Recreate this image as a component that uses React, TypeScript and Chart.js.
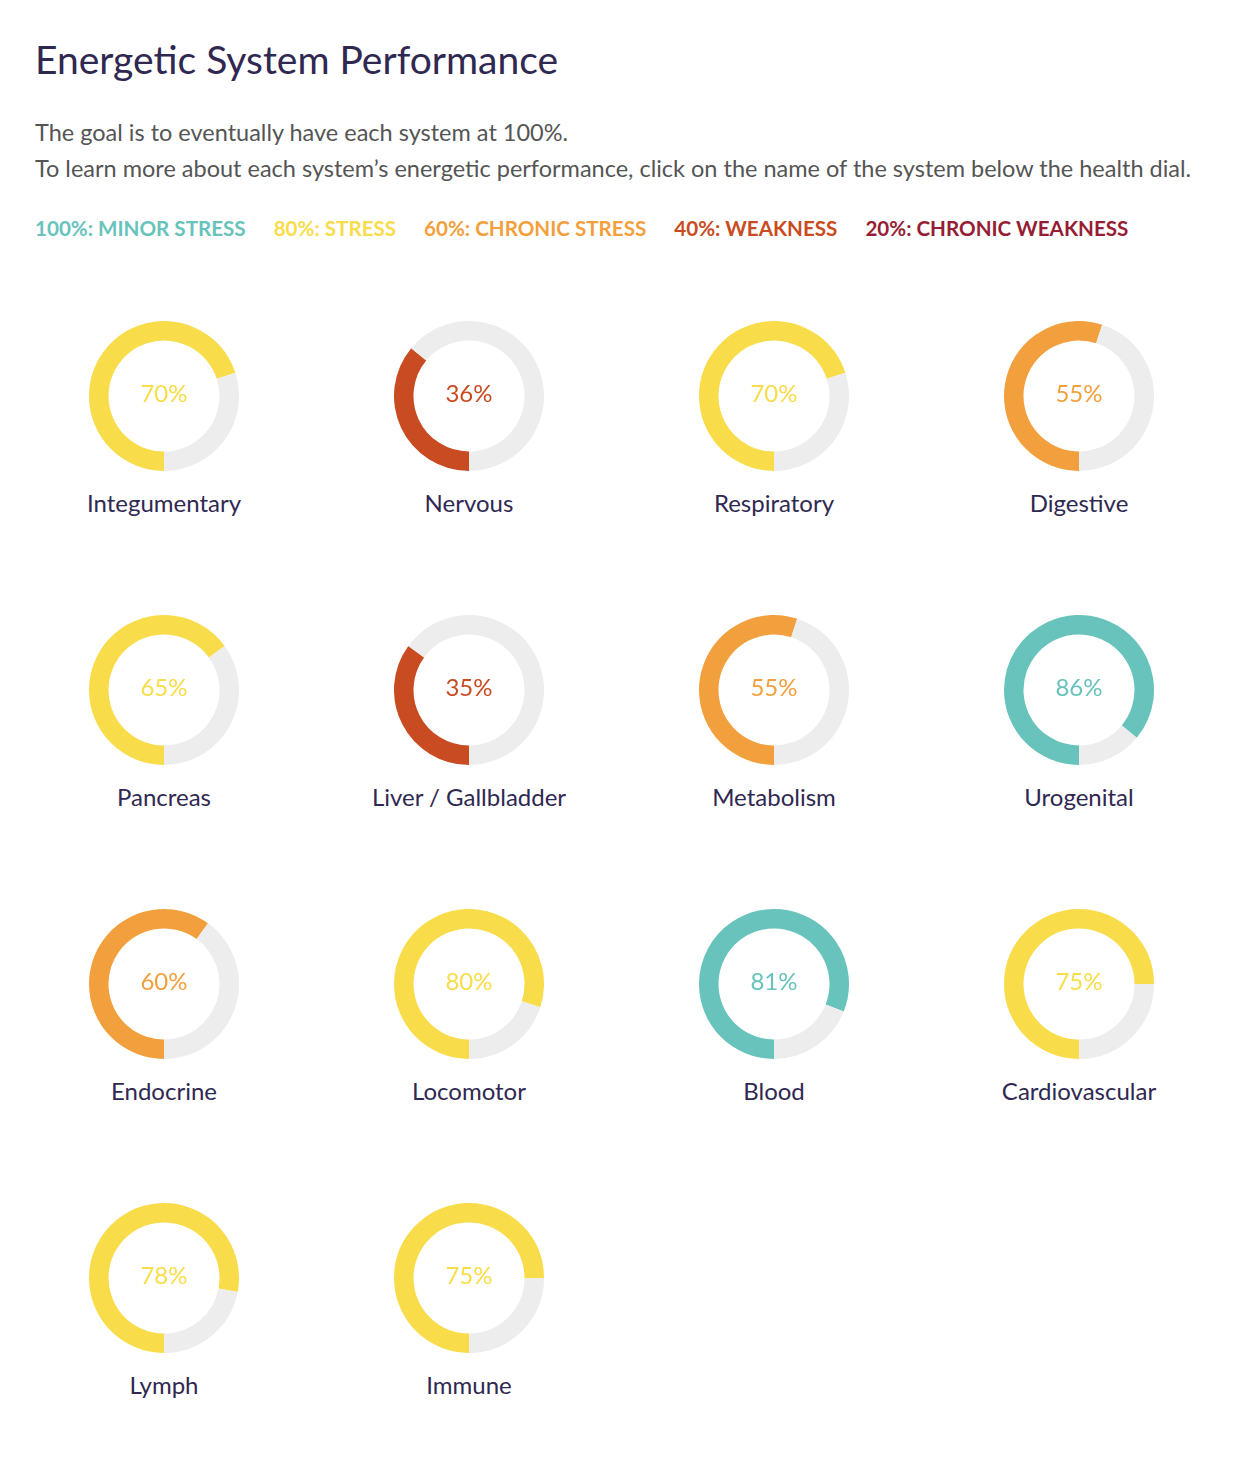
import React, { useEffect, useRef } from "react";
import { Chart, registerables } from "chart.js";

Chart.register(...registerables);

// Body systems and their energetic performance (%)
const systems = [
  "Integumentary", "Nervous", "Respiratory", "Digestive",
  "Pancreas", "Liver / Gallbladder", "Metabolism", "Urogenital",
  "Endocrine", "Locomotor", "Blood", "Cardiovascular",
  "Lymph", "Immune",
];
const scores = [70, 36, 70, 55, 65, 35, 55, 86, 60, 80, 81, 75, 78, 75];

// Legend bands
const bandLabels = [
  "100%: MINOR STRESS", "80%: STRESS", "60%: CHRONIC STRESS",
  "40%: WEAKNESS", "20%: CHRONIC WEAKNESS",
];
const bandColors = ["#67C3BC", "#F9DC4A", "#F2A03D", "#C94B21", "#951D35"];
// Lower bound (exclusive) of each band
const bandFloors = [80, 60, 40, 20, 0];

const TRACK = "#EDEDED";
const INK = "#2F2851";

function bandColor(v: number): string {
  for (let i = 0; i < bandFloors.length; i++) {
    if (v > bandFloors[i]) return bandColors[i];
  }
  return bandColors[bandColors.length - 1];
}

const FONT = "Lato, 'Open Sans', sans-serif";

function Dial({ name, value }: { name: string; value: number }) {
  const ref = useRef<HTMLCanvasElement | null>(null);
  const color = bandColor(value);
  useEffect(() => {
    if (!ref.current) return;
    const chart = new Chart(ref.current, {
      type: "doughnut",
      data: {
        labels: [name, ""],
        datasets: [
          {
            data: [value, 100 - value],
            backgroundColor: [color, TRACK],
            borderWidth: 0,
            hoverOffset: 0,
          },
        ],
      },
      options: {
        responsive: false,
        animation: false,
        rotation: 180,
        circumference: 360,
        cutout: "74%",
        layout: { padding: 0 },
        plugins: { legend: { display: false }, tooltip: { enabled: false } },
        events: [],
      },
    });
    return () => chart.destroy();
  }, [name, value, color]);

  return (
    <div style={{ width: 305, height: 294, position: "relative" }}>
      <div style={{ position: "absolute", left: 77.5, top: 0, width: 150, height: 150 }}>
        <canvas ref={ref} width={150} height={150} style={{ display: "block" }} />
        <div
          style={{
            position: "absolute", left: 0, top: -4, width: 150, height: 150,
            display: "flex", alignItems: "center", justifyContent: "center",
            fontFamily: FONT, fontSize: 24, color,
          }}
        >
          {value}%
        </div>
      </div>
      <div
        style={{
          position: "absolute", left: 0, width: 305, top: 167, textAlign: "center",
          fontFamily: FONT, fontSize: 24, color: INK, lineHeight: "30px",
        }}
      >
        {name}
      </div>
    </div>
  );
}

export default function App() {
  return (
    <div style={{ width: 1232, height: 1458, position: "relative", background: "#fff", fontFamily: FONT }}>
      <div style={{ position: "absolute", left: 27, top: 28, fontSize: 39, color: INK, lineHeight: "46px" }}>
        Energetic System Performance
      </div>
      <div style={{ position: "absolute", left: 27, top: 106, fontSize: 23.5, color: "#555", lineHeight: "36px", whiteSpace: "nowrap" }}>
        <div>The goal is to eventually have each system at 100%.</div>
        <div>To learn more about each system’s energetic performance, click on the name of the system below the health dial.</div>
      </div>
      <div style={{ position: "absolute", left: 27, top: 206, display: "flex", gap: 28, fontSize: 20.6, fontWeight: 700, lineHeight: "28px", whiteSpace: "nowrap" }}>
        {bandLabels.map((l, i) => (
          <span key={l} style={{ color: bandColors[i] }}>{l}</span>
        ))}
      </div>
      <div
        style={{
          position: "absolute", left: 3.5, top: 313,
          display: "grid", gridTemplateColumns: "repeat(4, 305px)",
        }}
      >
        {systems.map((s, i) => (
          <Dial key={s} name={s} value={scores[i]} />
        ))}
      </div>
    </div>
  );
}
